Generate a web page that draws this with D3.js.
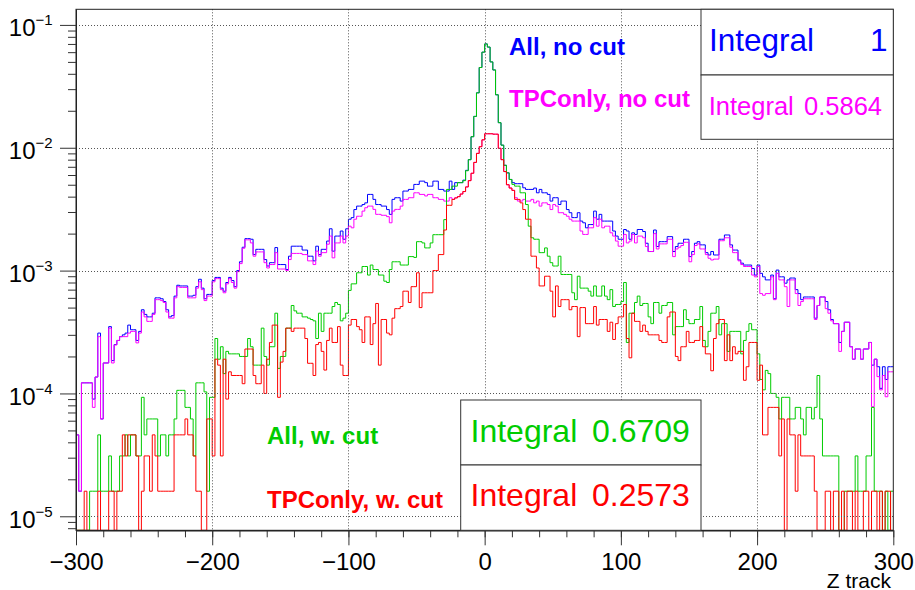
<!DOCTYPE html>
<html>
<head>
<meta charset="utf-8">
<style>
  body { margin: 0; background: #fff; }
  svg { display: block; font-family: "Liberation Sans", Arial, Helvetica, sans-serif; }
</style>
</head>
<body>
<svg></svg>
<script src="https://cdnjs.cloudflare.com/ajax/libs/d3/7.8.5/d3.min.js"></script>
<script>
const width = 915, height = 590;
const plot = { left: 76, right: 893.3, top: 9.3, bottom: 530.3 };

// histogram binning: 300 bins of 2 units from -300 to 300
const zMin = -300, zMax = 300, binWidth = 2;

// bin contents, in units of 1e-5 (0 = empty bin)
const allNoCut = [
  4.6, 1.6, 12.2, 12.2, 12.2, 12.2, 9, 13.6, 31, 6.2,
  17.7, 17.7, 35, 18.5, 25, 27, 29, 30, 31, 36,
  33, 33, 27, 32, 48, 44, 42, 42, 45, 60,
  60, 59, 56, 48, 42, 43, 62, 76, 75, 75,
  75, 62, 62, 63, 74, 85, 72, 59, 64, 64,
  83, 88, 88, 72, 68, 80, 88, 83, 74, 100,
  118, 155, 182, 182, 180, 135, 149, 149, 149, 123,
  109, 116, 116, 154, 112, 112, 112, 102, 131, 158,
  158, 158, 158, 147, 147, 131, 131, 120, 158, 135,
  149, 149, 174, 219, 144, 191, 191, 210, 180, 219,
  262, 270, 314, 335, 335, 345, 356, 417, 417, 380,
  345, 345, 335, 335, 314, 287, 380, 392, 392, 368,
  444, 444, 458, 458, 503, 503, 535, 535, 520, 487,
  487, 535, 535, 458, 458, 444, 444, 535, 458, 520,
  520, 520, 545, 655, 800, 1230, 1800, 2800, 4500, 6000,
  7000, 6600, 5000, 4300, 2700, 1600, 1050, 720, 625, 552,
  520, 510, 510, 510, 472, 458, 458, 458, 470, 430,
  458, 430, 430, 417, 368, 392, 392, 345, 368, 368,
  314, 296, 270, 270, 296, 253, 245, 223, 237, 237,
  305, 262, 287, 253, 253, 253, 253, 210, 191, 180,
  180, 216, 210, 180, 203, 197, 216, 216, 208, 167,
  143, 143, 214, 157, 172, 172, 172, 189, 189, 143,
  157, 167, 167, 180, 180, 130, 143, 167, 172, 162,
  162, 140, 134, 143, 134, 134, 180, 180, 195, 195,
  162, 147, 147, 122, 115, 111, 111, 111, 104, 92,
  111, 95, 89, 84, 84, 92, 59, 101, 89, 89,
  79, 84, 87, 87, 70, 65, 58, 61, 61, 61,
  61, 41, 52, 61, 61, 56, 48, 40, 37, 37,
  26, 32, 38, 38, 24, 19, 23, 23, 19, 23,
  23, 26, 17, 19, 16.5, 11, 16.5, 13, 16.5, 16.5
];
const tpcNoCut = [
  4.6, 1.6, 12.2, 12.2, 12.2, 12.2, 7.7, 13.6, 29, 6.2,
  17.7, 17.7, 34, 17.7, 24.8, 27, 29, 29, 29, 31,
  32, 32, 25.8, 31, 46, 42, 38.6, 38.6, 44, 58,
  58, 57, 55, 46, 41, 41, 60, 74, 73, 73,
  73, 60, 60, 60, 72, 81, 70, 57, 62, 62,
  81, 86, 86, 70, 66, 78, 86, 80, 72, 98,
  114, 152, 178, 178, 168, 131, 142, 142, 142, 116,
  105, 112, 112, 140, 103, 103, 103, 100, 123, 138,
  138, 138, 138, 135, 135, 120, 120, 112, 144, 131,
  140, 140, 164, 191, 127, 168, 168, 191, 168, 191,
  230, 223, 262, 277, 277, 305, 325, 335, 335, 315,
  287, 287, 282, 282, 275, 245, 305, 315, 315, 335,
  380, 380, 392, 392, 430, 430, 417, 417, 405, 417,
  417, 392, 392, 380, 380, 368, 368, 392, 380, 392,
  400, 420, 440, 480, 540, 620, 760, 900, 1020, 1160,
  1300, 1300, 1300, 1290, 1290, 990, 800, 640, 500, 470,
  450, 392, 368, 368, 380, 368, 368, 380, 356, 368,
  335, 356, 356, 345, 314, 345, 335, 296, 296, 287,
  277, 262, 253, 253, 253, 210, 197, 197, 223, 223,
  270, 230, 262, 223, 230, 230, 203, 191, 174, 158,
  158, 197, 168, 174, 197, 168, 191, 191, 185, 157,
  143, 143, 200, 150, 165, 165, 165, 180, 180, 130,
  150, 155, 160, 170, 170, 118, 135, 160, 165, 150,
  150, 135, 126, 122, 124, 124, 175, 175, 185, 185,
  155, 140, 140, 120, 112, 108, 108, 108, 92, 89,
  108, 65, 63, 65, 65, 89, 58, 95, 84, 84,
  74, 51, 84, 84, 65, 52, 56, 59, 59, 59,
  59, 40, 52, 61, 61, 49, 45, 39, 37, 37,
  22, 32, 38, 38, 24, 19, 23, 23, 19, 23,
  23, 26, 7.8, 19, 13.7, 10.7, 14, 9.4, 15, 15
];
const allCut = [
  0, 0, 0, 0, 0, 1.6, 1.6, 1.6, 4.6, 1.6,
  1.6, 1.6, 3.1, 1.6, 1.6, 1.6, 3.1, 3.1, 4.6, 3.1,
  4.6, 4.6, 3.1, 3.1, 9.3, 4.6, 6.2, 6.2, 6.2, 6.2,
  3.1, 4.6, 4.6, 3.1, 4.6, 4.6, 6.2, 10.6, 10.6, 10.6,
  7.7, 7.7, 6.2, 3.1, 12.2, 12.2, 12.2, 10.3, 1.6, 9.3,
  9.3, 28, 19, 24, 14.5, 22, 21, 21, 21, 21,
  20, 20, 20, 28, 24, 17, 17, 17, 34, 20,
  17, 24, 24, 45, 16, 20, 20, 34, 34, 52,
  47, 45, 45, 42, 42, 41, 40, 39, 28, 45,
  32, 45, 45, 45, 51, 55, 53, 39, 41, 45,
  69, 78, 78, 96, 96, 108, 108, 92, 111, 102,
  102, 92, 92, 82, 80, 102, 118, 118, 118, 111,
  111, 111, 130, 130, 128, 172, 172, 168, 153, 153,
  168, 196, 196, 196, 196, 260, 458, 458, 487, 487,
  520, 520, 540, 650, 800, 1230, 1800, 2800, 4500, 6000,
  7000, 6600, 5000, 4300, 2700, 1600, 1050, 720, 625, 552,
  503, 487, 487, 430, 430, 345, 230, 185, 180, 180,
  140, 140, 153, 131, 116, 109, 109, 131, 93, 93,
  93, 93, 66, 58, 90, 72, 72, 72, 68, 62,
  75, 62, 62, 75, 62, 58, 70, 51, 53, 53,
  56, 80, 26, 45, 45, 55, 62, 52, 54, 54,
  42, 37, 55, 55, 45, 52, 52, 55, 55, 30,
  35, 35, 35, 48, 40, 37, 37, 40, 40, 51,
  27, 24, 32, 45, 45, 51, 30, 37, 37, 22,
  32, 32, 32, 32, 21, 27, 32, 37, 33, 33,
  21, 13, 10.7, 15.4, 14.5, 10, 10, 9.3, 6.2, 9.3,
  9.3, 9.3, 6.2, 6.2, 7.7, 7.7, 6.2, 4.6, 7.7, 7.7,
  6.2, 7.7, 14, 6.2, 3.1, 3.1, 3.1, 3.1, 3.1, 3.1,
  0, 0, 1.6, 1.6, 1.6, 1.6, 3.1, 1.6, 1.6, 1.6,
  3.1, 3.1, 7.7, 1.6, 1.6, 1.6, 0, 1.6, 0, 1.6
];
const tpcCut = [
  0, 0, 0, 1.6, 0, 0, 0, 0, 1.6, 0,
  0, 0, 1.6, 1.6, 0, 1.6, 1.6, 4.6, 3.1, 4.6,
  4.6, 4.6, 3.1, 0, 1.6, 3.1, 3.1, 1.6, 4.6, 3.1,
  1.6, 1.6, 1.6, 1.6, 1.6, 1.6, 4.6, 4.6, 4.6, 4.6,
  6.2, 4.6, 4.6, 3.1, 1.6, 1.6, 0, 0, 6.2, 6.2,
  3.1, 19, 17, 3.1, 19, 9, 15, 14, 14, 14,
  14, 12, 23, 23, 23, 14, 12, 12, 17, 10,
  19, 26, 36, 36, 9.3, 18, 22, 34, 34, 32,
  34, 34, 34, 34, 28, 17.6, 17.6, 14, 25, 26,
  22, 15.5, 27, 34, 26, 26, 35, 17, 14, 14,
  36, 40, 40, 35, 33, 26, 42, 42, 25, 37,
  54, 17, 40, 40, 31, 30, 41, 49, 49, 51,
  68, 68, 55, 74, 74, 96, 50, 66, 66, 66,
  66, 100, 100, 135, 135, 214, 340, 340, 380, 390,
  400, 420, 440, 480, 540, 620, 760, 900, 1020, 1160,
  1300, 1300, 1300, 1290, 1290, 990, 800, 640, 500, 470,
  450, 380, 380, 356, 314, 262, 262, 131, 131, 105,
  75, 75, 90, 90, 68, 42, 75, 51, 58, 58,
  58, 48, 51, 51, 29, 50, 50, 37, 37, 37,
  51, 36, 40, 40, 40, 32, 38, 27.5, 37, 42,
  42, 53, 28, 19.5, 45, 38.6, 38.6, 32, 36, 32,
  30, 30, 30, 30, 27, 26, 26, 42, 46, 46,
  20, 18.5, 24, 24, 32, 26, 26, 27, 27, 35,
  24, 21, 21, 15.3, 28, 37, 40, 40, 18.5, 30,
  18.5, 24, 21, 22, 22, 12.8, 16.5, 26, 26, 26,
  12.8, 17, 4.6, 4.6, 7.7, 7.7, 7.7, 7.7, 3.1, 6.2,
  0, 6.2, 4.6, 4.6, 1.6, 4.6, 3.1, 3.1, 3.1, 3.1,
  3.1, 1.6, 0, 0, 0, 1.6, 1.6, 0, 1.6, 1.6,
  0, 1.6, 0, 1.6, 1.6, 0, 1.6, 0, 0, 1.6,
  1.6, 0, 1.6, 1.6, 0, 1.6, 0, 1.6, 1.6, 0
];

const seriesNames = ['All, no cut', 'TPConly, no cut', 'All, w. cut', 'TPConly, w. cut'];
const seriesColors = ['#0000ff', '#ff00ff', '#00cc00', '#ff0000'];
const integrals = ['1', '0.5864', '0.6709', '0.2573'];
const xMajorTicks = [-300, -200, -100, 0, 100, 200, 300];
const yDecades = [-5, -4, -3, -2, -1];
const xTitle = 'Z track';

const svg = d3.select('svg').attr('width', width).attr('height', height);

const x = d3.scaleLinear().domain([zMin, zMax]).range([plot.left, plot.right]);
const y = d3.scaleLog().domain([7.69e-6, 0.134]).range([plot.bottom, plot.top]);
const yFloor = y.domain()[0];

svg.append('defs').append('clipPath').attr('id', 'frame')
  .append('rect')
  .attr('x', plot.left).attr('y', plot.top)
  .attr('width', plot.right - plot.left).attr('height', plot.bottom - plot.top);

// step outline of one histogram
const line = d3.line()
  .x(d => x(d[0]))
  .y(d => y(d[1]))
  .curve(d3.curveStepAfter);

function stepPoints(vals) {
  const pts = vals.map((u, i) => [zMin + i * binWidth, Math.max(u * 1e-5, yFloor)]);
  pts.push([zMin + vals.length * binWidth, pts[pts.length - 1][1]]);
  return pts;
}

const hists = [allNoCut, tpcNoCut, allCut, tpcCut];
const histGroup = svg.append('g').attr('clip-path', 'url(#frame)');
hists.forEach((vals, k) => {
  histGroup.append('path')
    .attr('d', line(stepPoints(vals)))
    .attr('fill', 'none')
    .attr('stroke', seriesColors[k])
    .attr('stroke-width', 1);
});

// dotted grid
const grid = svg.append('g')
  .attr('stroke', '#555').attr('stroke-width', 1).attr('stroke-dasharray', '1,2');
xMajorTicks.filter(t => t > zMin && t < zMax).forEach(t => {
  grid.append('line')
    .attr('x1', Math.round(x(t)) + 0.5).attr('x2', Math.round(x(t)) + 0.5)
    .attr('y1', plot.top).attr('y2', plot.bottom);
});
yDecades.forEach(d => {
  const yy = Math.round(y(Math.pow(10, d))) + 0.5;
  grid.append('line')
    .attr('x1', plot.left).attr('x2', plot.right)
    .attr('y1', yy).attr('y2', yy);
});

// frame
svg.append('rect')
  .attr('x', plot.left).attr('y', plot.top)
  .attr('width', plot.right - plot.left).attr('height', plot.bottom - plot.top)
  .attr('fill', 'none').attr('stroke', '#222').attr('stroke-width', 1);

// x axis
const xMinor = d3.range(zMin, zMax + 1, 20);
const xAxisMinor = d3.axisBottom(x).tickValues(xMinor).tickSize(7).tickSizeOuter(0).tickFormat('');
const xAxisMajor = d3.axisBottom(x).tickValues(xMajorTicks).tickSize(15).tickSizeOuter(0)
  .tickPadding(8).tickFormat(d3.format('d'));
[xAxisMinor, xAxisMajor].forEach(ax => {
  const g = svg.append('g').attr('transform', `translate(0,${plot.bottom})`).call(ax);
  g.select('.domain').attr('stroke', '#222');
  g.selectAll('.tick line').attr('stroke', '#333');
  g.selectAll('.tick text')
    .attr('font-family', '"Liberation Sans", Arial, sans-serif')
    .attr('font-size', 24).attr('fill', '#000');
});

svg.append('text')
  .attr('x', 891).attr('y', 587.5)
  .attr('text-anchor', 'end')
  .attr('font-size', 21)
  .text(xTitle);

// y axis
const yMinor = [];
for (let d = -6; d <= -1; d++) {
  for (let m = 2; m <= 9; m++) {
    const v = m * Math.pow(10, d);
    if (v >= y.domain()[0] && v <= y.domain()[1]) yMinor.push(v);
  }
}
const yAxisMinor = d3.axisLeft(y).tickValues(yMinor).tickSize(8).tickSizeOuter(0).tickFormat('');
const yAxisMajor = d3.axisLeft(y).tickValues(yDecades.map(d => Math.pow(10, d)))
  .tickSize(16).tickSizeOuter(0).tickFormat('');
[yAxisMinor, yAxisMajor].forEach(ax => {
  const g = svg.append('g').attr('transform', `translate(${plot.left},0)`).call(ax);
  g.select('.domain').attr('stroke', '#222');
  g.selectAll('.tick line').attr('stroke', '#333');
});
yDecades.forEach(d => {
  const yy = y(Math.pow(10, d));
  svg.append('text')
    .attr('x', 35.5).attr('y', yy + 11.5)
    .attr('text-anchor', 'end').attr('font-size', 24)
    .text('10');
  svg.append('text')
    .attr('x', 35.5).attr('y', yy + 0.5)
    .attr('text-anchor', 'start').attr('font-size', 15)
    .text('\u2212' + Math.abs(d));
});

// stats boxes
const boxes = [
  { x: 701, y: 9.3, w: 192.3, h: 65.7, size: 31.5, base: 51, lx: 709, vx: 870 },
  { x: 701, y: 75, w: 192.3, h: 64.3, size: 25.5, base: 115, lx: 708.7, vx: 804 },
  { x: 460.7, y: 400, w: 240.3, h: 65, size: 32, base: 441.7, lx: 470.5, vx: 592 },
  { x: 460.7, y: 465, w: 240.3, h: 65.3, size: 32, base: 506, lx: 470.5, vx: 592 }
];
boxes.forEach((b, k) => {
  svg.append('rect')
    .attr('x', b.x).attr('y', b.y).attr('width', b.w).attr('height', b.h)
    .attr('fill', '#fff').attr('stroke', '#333').attr('stroke-width', 1);
  svg.append('text')
    .attr('x', b.lx).attr('y', b.base)
    .attr('font-size', b.size).attr('fill', seriesColors[k])
    .text('Integral');
  svg.append('text')
    .attr('x', b.vx).attr('y', b.base)
    .attr('font-size', b.size).attr('fill', seriesColors[k])
    .text(integrals[k]);
});

// series labels
const labelPos = [[509, 55], [509, 107.3], [267, 444], [267, 508]];
seriesNames.forEach((name, k) => {
  svg.append('text')
    .attr('x', labelPos[k][0]).attr('y', labelPos[k][1])
    .attr('font-size', 24).attr('font-weight', 'bold')
    .attr('fill', seriesColors[k])
    .text(name);
});
</script>
</body>
</html>
